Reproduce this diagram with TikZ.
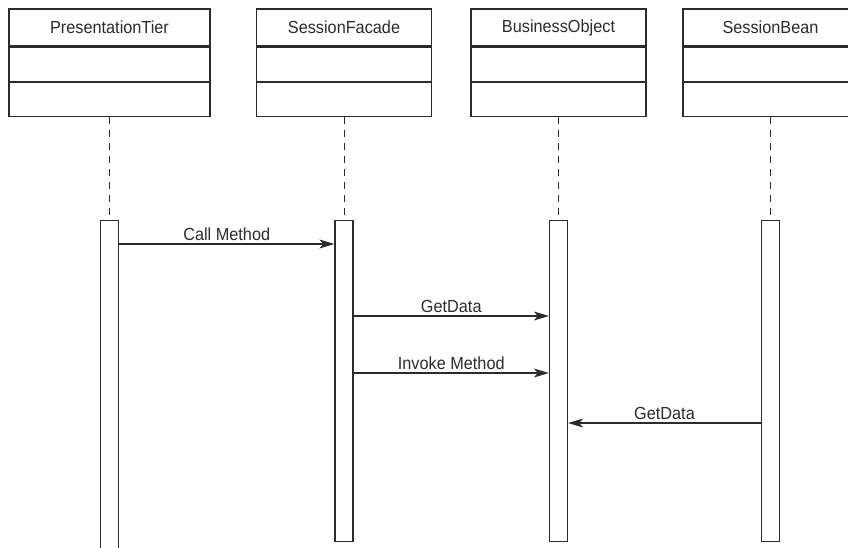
\documentclass[tikz,border=0pt]{standalone}
\usepackage{fontspec}
\setmainfont{Liberation Sans}[FakeStretch=0.93]
\usetikzlibrary{positioning,arrows.meta}
\definecolor{linea}{HTML}{2B2B2B}
\definecolor{texto}{HTML}{2B2B2B}

\begin{document}
\begin{tikzpicture}[x=1pt, y=-1pt,
      classname/.style={draw=linea, line width=1.3pt, minimum width=#1, minimum height=37pt, inner sep=0pt, text=texto, font=\fontsize{17.5}{20}\selectfont},
      classname/.default=175pt,
      compartment/.style={draw=linea, line width=1.3pt, minimum width=#1, minimum height=34pt, inner sep=0pt},
      compartment/.default=175pt,
      activation/.style={draw=linea, line width=1.3pt, fill=white, minimum width=18pt, minimum height=#1, inner sep=0pt, anchor=north},
      activation/.default=321pt,
      lifeline/.style={draw=linea, line width=1pt, dash pattern=on 7pt off 6pt},
      message/.style={-{Stealth[length=15pt, width=9pt, inset=4pt]}, line width=1.1pt, color=linea},
      msglabel/.style={above=2.5pt, inner sep=0pt, text=texto, font=\fontsize{17.5}{20}\selectfont}
    ]
      \useasboundingbox (0,0) rectangle (848,547);
      % class boxes
      \node[classname=201pt] (pt) at (109.5,27.5) {PresentationTier};
      \node[compartment=201pt, below=0pt of pt] (pt-a) {};
      \node[compartment=201pt, below=0pt of pt-a] (pt-o) {};
      \node[classname] (sf) at (344,27.5) {SessionFacade};
      \node[compartment, below=0pt of sf] (sf-a) {};
      \node[compartment, below=0pt of sf-a] (sf-o) {};
      \node[classname] (bo) at (558.5,27.5) {BusinessObject};
      \node[compartment, below=0pt of bo] (bo-a) {};
      \node[compartment, below=0pt of bo-a] (bo-o) {};
      \node[classname] (sb) at (770.5,27.5) {SessionBean};
      \node[compartment, below=0pt of sb] (sb-a) {};
      \node[compartment, below=0pt of sb-a] (sb-o) {};
      % activation bars
      \node[activation=340pt] (act1) at (pt-o.south |- 0,220) {};
      \node[activation] (act2) at (sf-o.south |- 0,220) {};
      \node[activation] (act3) at (bo-o.south |- 0,220) {};
      \node[activation] (act4) at (sb-o.south |- 0,220) {};
      \draw[lifeline] (pt-o.south) -- (act1.north);
      \draw[lifeline] (sf-o.south) -- (act2.north);
      \draw[lifeline] (bo-o.south) -- (act3.north);
      \draw[lifeline] (sb-o.south) -- (act4.north);
      % messages
      \draw[message] (act1.east |- 0,244) -- (act2.west |- 0,244) node[midway, msglabel] {Call Method};
      \draw[message] (act2.east |- 0,316) -- (act3.west |- 0,316) node[midway, msglabel] {GetData};
      \draw[message] (act2.east |- 0,373) -- (act3.west |- 0,373) node[midway, msglabel] {Invoke Method};
      \draw[message] (act4.west |- 0,423) -- (act3.east |- 0,423) node[midway, msglabel] {GetData};
    \end{tikzpicture}
\end{document}
